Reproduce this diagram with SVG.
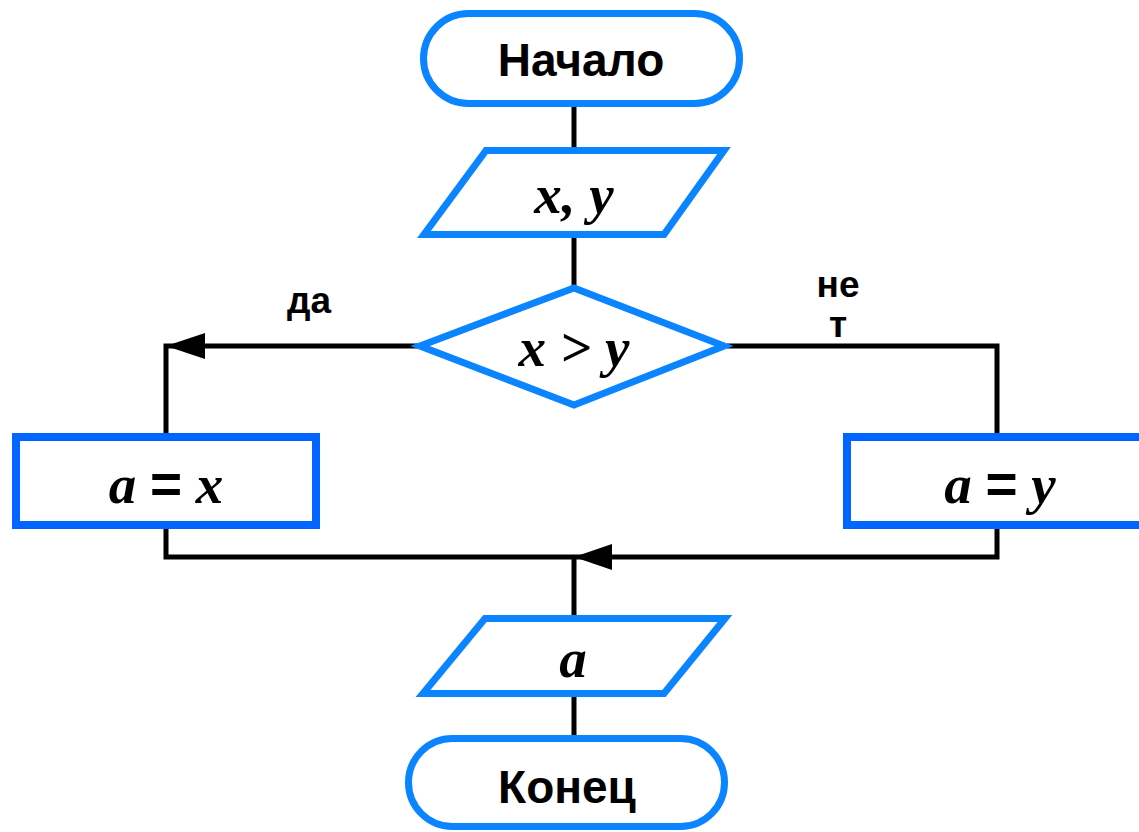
<svg xmlns="http://www.w3.org/2000/svg" width="1139" height="832" viewBox="0 0 1139 832">
<defs>
<style>
.blk{fill:#fff;stroke:#0A84FF;stroke-width:7}
.proc{fill:#fff;stroke:#0066FF;stroke-width:8}
.ln{fill:none;stroke:#000;stroke-width:5}
.ttl{font-family:"Liberation Sans",Arial,sans-serif;font-weight:bold;font-size:46px;fill:#000;text-anchor:middle}
.lbl{font-family:"Liberation Sans",Arial,sans-serif;font-weight:bold;font-size:37px;fill:#000;text-anchor:middle}
.math{font-family:"Liberation Serif","Times New Roman",serif;font-weight:bold;font-style:italic;font-size:55px;fill:#000;text-anchor:middle}
.eq{font-family:"Liberation Sans",Arial,sans-serif;font-style:normal;font-weight:bold}
</style>
</defs>
<g id="connectors">
<path class="ln" d="M574,107 V148"/>
<path class="ln" d="M574,238 V287"/>
<path class="ln" d="M418,346 H166 V435"/>
<polygon points="166,346 205,333 205,359" fill="#000"/>
<path class="ln" d="M727,346 H997 V435"/>
<path class="ln" d="M166,528 V557 H997 V528"/>
<polygon points="574,557 612,544 612,570" fill="#000"/>
<path class="ln" d="M574,557 V616"/>
<path class="ln" d="M574,697 V738"/>
</g>
<g id="start">
<rect class="blk" x="423.5" y="13.5" width="316" height="90" rx="45"/>
<text class="ttl" x="581" y="76">Начало</text>
</g>
<g id="input">
<polygon class="blk" points="486,150.5 724,150.5 664,234.5 424,234.5"/>
<text class="math" x="574" y="213">x, y</text>
</g>
<g id="decision">
<polygon class="blk" points="574,288 724,346 574,405 420,346"/>
<text class="math" x="574" y="366">x &gt; y</text>
</g>
<g id="labels">
<text class="lbl" x="309" y="313">да</text>
<text class="lbl" x="838" y="297">не</text>
<text class="lbl" x="838" y="337">т</text>
</g>
<g id="assignX">
<rect class="proc" x="16" y="437" width="300" height="88"/>
<text class="math" x="166" y="503">a <tspan class="eq">=</tspan> x</text>
</g>
<g id="assignY">
<rect class="proc" x="847" y="437" width="300" height="88"/>
<text class="math" x="1000" y="503">a <tspan class="eq">=</tspan> y</text>
</g>
<g id="output">
<polygon class="blk" points="485,618.5 725,618.5 664,693.5 423,693.5"/>
<text class="math" x="573" y="677">a</text>
</g>
<g id="end">
<rect class="blk" x="408.5" y="738.5" width="316" height="88" rx="44"/>
<text class="ttl" x="567" y="803">Конец</text>
</g>
</svg>
